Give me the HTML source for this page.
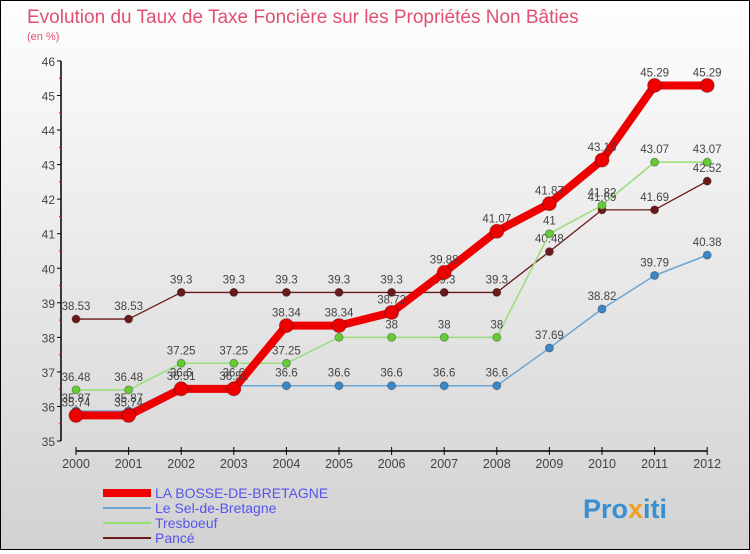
<!DOCTYPE html>
<html><head><meta charset="utf-8"><style>
html,body{margin:0;padding:0;}
body{width:750px;height:550px;overflow:hidden;font-family:"Liberation Sans",sans-serif;}
#wrap{position:relative;width:748px;height:548px;border:1px solid #000;background:linear-gradient(#fefefe,#d2d2d2);}
</style></head><body>
<div id="wrap">
<svg id="chart" width="748" height="548" xmlns="http://www.w3.org/2000/svg">
<text x="26" y="22" font-size="19" fill="#e05070">Evolution du Taux de Taxe Foncière sur les Propriétés Non Bâties</text>
<text x="26" y="39" font-size="11" fill="#e05070">(en %)</text>
<g id="axes"></g><g id="series"></g><g id="legend"></g>
<text x="582" y="517" font-size="27" font-weight="bold" fill="#3a8fd0">Pro<tspan fill="#f0a020">x</tspan>iti</text>
</svg></div>
<script>
const years=[2000,2001,2002,2003,2004,2005,2006,2007,2008,2009,2010,2011,2012];
const yTicks=[35,36,37,38,39,40,41,42,43,44,45,46];
const labels=["LA BOSSE-DE-BRETAGNE","Le Sel-de-Bretagne","Tresboeuf","Pancé"];
const redVals=[35.74,35.74,36.51,36.51,38.34,38.34,38.72,39.88,41.07,41.87,43.13,45.29,45.29];
const blueVals=[35.87,35.87,36.6,36.6,36.6,36.6,36.6,36.6,36.6,37.69,38.82,39.79,40.38];
const greenVals=[36.48,36.48,37.25,37.25,37.25,38,38,38,38,41,41.82,43.07,43.07];
const brownVals=[38.53,38.53,39.3,39.3,39.3,39.3,39.3,39.3,39.3,40.48,41.69,41.69,42.52];
const NS="http://www.w3.org/2000/svg";
const xs=i=>75+i*52.6;
const ys=v=>440-(v-35)*34.55;
function mk(t,a,p){const e=document.createElementNS(NS,t);for(const k in a)e.setAttribute(k,a[k]);p.appendChild(e);return e;}
const axes=document.getElementById('axes');
let l=mk('line',{x1:60,y1:ys(46),x2:60,y2:ys(35),stroke:'#000','stroke-width':1.5},axes);


yTicks.forEach(v=>{
 mk('line',{x1:56,x2:60,y1:ys(v),y2:ys(v),stroke:'#000'},axes);
 if(v<46) mk('line',{x1:58,x2:61,y1:ys(v+0.5),y2:ys(v+0.5),stroke:'#f00'},axes);
 const t=mk('text',{x:54,y:ys(v)+5,'text-anchor':'end','font-size':12,fill:'#444'},axes);t.textContent=v;
 
 
});
l=mk('line',{x1:75,y1:450,x2:706,y2:450,stroke:'#000','stroke-width':1.5},axes);


years.forEach((y,i)=>{
 mk('line',{x1:xs(i),x2:xs(i),y1:446,y2:454,stroke:'#000'},axes);
 const t=mk('text',{x:xs(i),y:467,'text-anchor':'middle','font-size':12.5,fill:'#444'},axes);t.textContent=y;
 
 
});
const ser=document.getElementById('series');
const defs=[[brownVals,'#6b1a1a','#6b1a1a',1.3,4,'series-pance'],[greenVals,'#99dd77','#66cc33',1.5,4,'series-tresboeuf'],[blueVals,'#6aa6d6','#3a88c8',1.5,4,'series-le-sel-de-bretagne'],[redVals,'#ee0000','#ee0000',8,7,'series-la-bosse-de-bretagne']];
defs.forEach(([vals,lc,pc,w,r,name])=>{
 const g=mk('g',{},ser);
 
 
 mk('polyline',{points:vals.map((v,i)=>xs(i)+','+ys(v)).join(' '),fill:'none',stroke:lc,'stroke-width':w,'stroke-linejoin':'round'},g);
 vals.forEach((v,i)=>{
  const c=mk('circle',{cx:xs(i),cy:ys(v),r:r,fill:pc,stroke:'rgba(0,0,0,0.3)'},g);
  
  
  const t=mk('text',{x:xs(i),y:ys(v)-9,'text-anchor':'middle','font-size':11.5,fill:'#444'},g);t.textContent=v;
  
  
 });
});
const leg=document.getElementById('legend');
const lc=['#ee0000','#6aa6d6','#99dd77','#6b1a1a'],lw=[8,2,2,2];
labels.forEach((s,i)=>{
 const y=492+i*15;
 const g=mk('g',{},leg);
 
 
 mk('line',{x1:102,x2:150,y1:y,y2:y,stroke:lc[i],'stroke-width':lw[i]},g);
 const t=mk('text',{x:154,y:y+5,'font-size':14,fill:'#5555ee'},g);t.textContent=s;
});
</script>
</body></html>
